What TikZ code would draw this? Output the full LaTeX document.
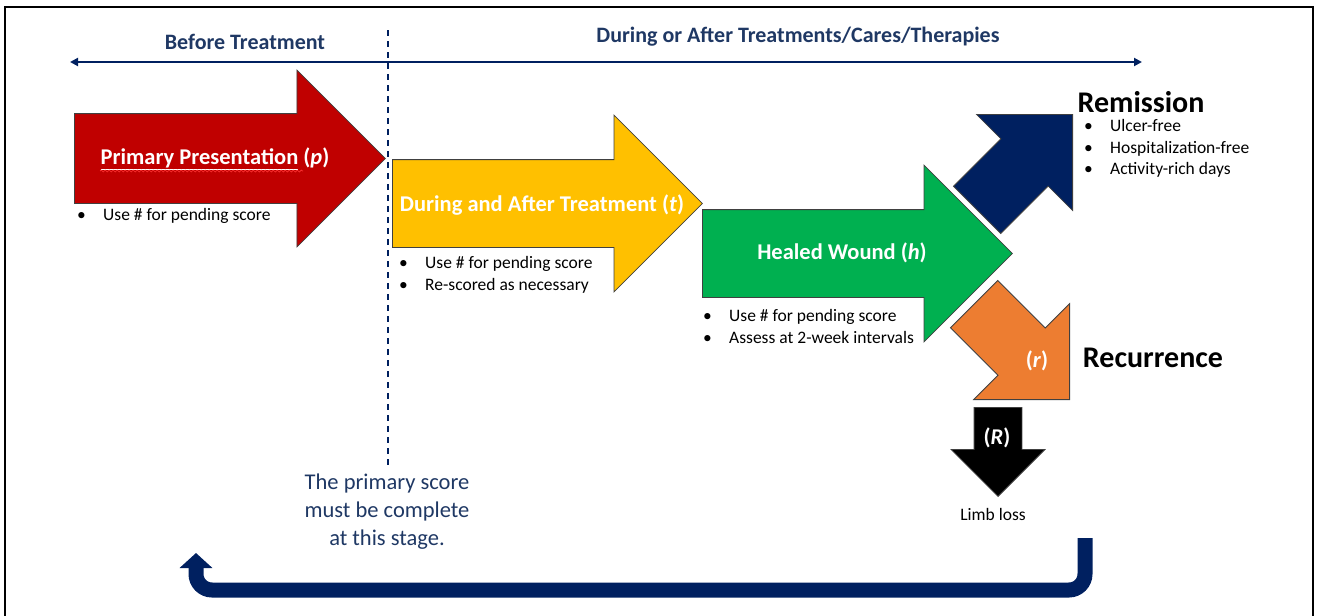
\documentclass[tikz,border=0pt]{standalone}
\usepackage{fontspec}
\setmainfont{Carlito}
\usetikzlibrary{shapes.arrows, arrows.meta, decorations.pathmorphing}
\definecolor{myred}{HTML}{C00000}
\definecolor{myyellow}{HTML}{FFC000}
\definecolor{mygreen}{HTML}{00B050}
\definecolor{mynavy}{HTML}{002060}
\definecolor{myorange}{HTML}{ED7D31}
\definecolor{mytext}{HTML}{1F3864}

\newcommand{\itm}[1]{\makebox[26pt][l]{\textbullet}#1}

\tikzset{
	blockarrow/.style={
			single arrow,
			draw=black!75,
			line width=0.8pt,
			inner sep=0pt,
			minimum height=310pt,
			text height=43.5pt,
			text depth=43.5pt,
			single arrow head extend=44.5pt
		},
	cornerarrow/.style={
			blockarrow,
			minimum height=135pt,
			text height=33pt,
			text depth=33pt,
			single arrow head extend=34.5pt
		},
	stagelabel/.style={
			text=white,
			font=\fontsize{22.5}{27}\selectfont\bfseries
		},
	notes/.style={
			anchor=west,
			align=left,
			inner sep=0pt,
			font=\fontsize{17.5}{21.5}\selectfont
		},
	header/.style={
			text=mytext,
			font=\fontsize{22}{26}\selectfont\bfseries
		},
	outcome/.style={
			font=\fontsize{30}{36}\selectfont\bfseries
		}
}

\begin{document}
\begin{tikzpicture}[x=1pt, y=-1pt]
\useasboundingbox (0,0) rectangle (1318,616);
\draw[line width=1.3pt] (5,616) -- (5,7) -- (1313,7) -- (1313,616);

% timeline and the cut between the two phases
\coordinate (tlL) at (70,62);
\coordinate (tlR) at (1142,62);
\draw[mynavy, line width=2pt, {Triangle[length=8pt,width=8pt]}-{Triangle[length=8pt,width=8pt]}] (tlL) -- (tlR);
\node[header] (before) at (245,42) {Before Treatment};
\node[header] (during) at (798,37) {During or After Treatments/Cares/Therapies};
\coordinate (cutTop) at (388,30);
\coordinate (cutBot) at (388,465);
\draw[mynavy, line width=2pt, dash pattern=on 6pt off 5pt] (cutTop) -- (cutBot);

% stage arrows
\node[blockarrow, fill=myred, minimum height=311pt, text height=44.5pt, text depth=44.5pt, single arrow head extend=43.5pt, anchor=tail] (pArrow) at (74,158.5) {};
\node[blockarrow, fill=myyellow, anchor=tail] (tArrow) at (392,203.5) {};
\node[blockarrow, fill=mygreen, anchor=tail] (hArrow) at (702,253.5) {};
\node[cornerarrow, fill=mynavy, rotate=45, anchor=tip] (remArrow) at (1073,114) {};
\node[cornerarrow, fill=myorange, rotate=-45, anchor=tip] (recArrow) at (1070,400) {};
\node[blockarrow, fill=black, rotate=-90, anchor=tip, minimum height=89pt, text height=23.5pt, text depth=23.5pt, single arrow head extend=23pt] (limbArrow) at (998,497) {};

\node[stagelabel] (pLabel) at (215,159) {\underline{Primary Presentation} (\textit{p})};
\draw[red!80!white, line width=0.7pt, decorate, decoration={snake, amplitude=1pt, segment length=4pt}] (100,171) -- (303,171);
\node[stagelabel] (tLabel) at (542,205) {During and After Treatment (\textit{t})};
\node[stagelabel] (hLabel) at (842,253) {Healed Wound (\textit{h})};
\node[stagelabel] (rLabel) at (1037,361) {(\textit{r})};
\node[stagelabel] (RLabel) at (997,438) {(\textit{R})};

% notes under the arrows
\node[notes] (pNotes) at (77,216) {\itm{Use \# for pending score}};
\node[notes] (tNotes) at (399,275) {\itm{Use \# for pending score}\\ \itm{Re-scored as necessary}};
\node[notes] (hNotes) at (703,326.5) {\itm{Use \# for pending score}\\ \itm{Assess at 2-week intervals}};
\node[notes] (remNotes) at (1084,148.5) {\itm{Ulcer-free}\\ \itm{Hospitalization-free}\\ \itm{Activity-rich days}};

\node[outcome] (remission) at (1141,102) {Remission};
\node[outcome] (recurrence) at (1153,358) {Recurrence};
\node[notes, anchor=center] (limbLoss) at (993,514) {Limb loss};

\node[text=mytext, align=center, font=\fontsize{22.5}{28}\selectfont] (stageNote) at (387,512) {The primary score\\must be complete\\at this stage.};

% loop back to the start
\coordinate (loopStart) at (1085,538);
\coordinate (loopEnd) at (196,553);
\draw[mynavy, line width=15pt, rounded corners=16pt, -{Triangle[length=15pt,width=32pt]}] (loopStart) -- (1085,590) -- (196,590) -- (loopEnd);
\end{tikzpicture}
\end{document}
